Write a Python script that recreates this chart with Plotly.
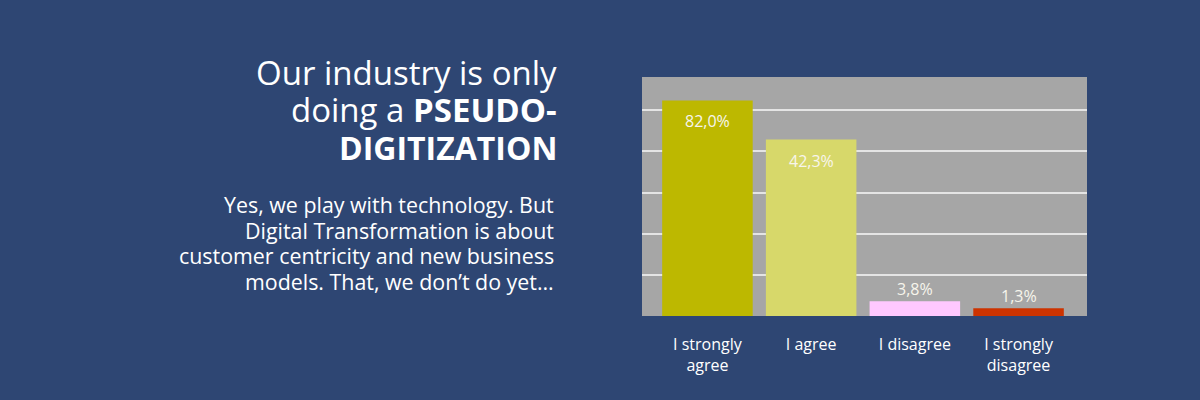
import plotly.graph_objects as go

# ────────────── DATOS ──────────────
categorias   = ["I strongly<br>agree", "I agree", "I disagree", "I strongly<br>disagree"]
etiquetas    = ["82,0%", "42,3%", "3,8%", "1,3%"]
# bar heights as drawn in the picture (gridline units)
alturas      = [5.24, 4.29, 0.36, 0.19]
colores      = ["#bdb800", "#d7d86a", "#ffc8ff", "#cc3300"]
dentro       = [True, True, False, False]   # label inside the bar or above it

titulo_lineas = ["Our industry is only", "doing a <b>PSEUDO-</b>", "<b>DIGITIZATION</b>"]
titulo_sizes  = [33, 33, 32]
texto_lineas  = ["Yes, we play with technology. But",
                 "Digital Transformation is about",
                 "customer centricity and new business",
                 "models. That, we don\u2019t do yet\u2026"]

FONDO = "#2e4673"
FUENTE = "Open Sans"

fig = go.Figure(go.Bar(
    x=categorias,
    y=alturas,
    marker=dict(color=colores, line_width=0),
    width=0.873,
    hoverinfo="skip",
))

# ───────────── textos de la izquierda (anotaciones en px → paper) ─────────────
L, R, T, B = 642, 113, 77, 84
W = 1200 - L - R
H = 400 - T - B

def px_x(px):
    return (px - L) / W

def px_y(py):
    return (400 - B - py) / H

anots = []
for i, linea in enumerate(titulo_lineas):
    anots.append(dict(text=linea, x=px_x(559), y=px_y(97.5 + i * 36.5), xref="paper", yref="paper",
                      xanchor="right", yanchor="bottom", showarrow=False,
                      font=dict(family=FUENTE, size=titulo_sizes[i], color="white")))
for i, linea in enumerate(texto_lineas):
    anots.append(dict(text=linea, x=px_x(556), y=px_y(221 + i * 25.5), xref="paper", yref="paper",
                      xanchor="right", yanchor="bottom", showarrow=False,
                      font=dict(family=FUENTE, size=21.4, color="white")))

# etiquetas de valor
for cat, alt, txt, ins in zip(categorias, alturas, etiquetas, dentro):
    anots.append(dict(text=txt, x=cat, y=alt, xref="x", yref="y", showarrow=False,
                      yanchor="middle", yshift=-21 if ins else 12,
                      font=dict(family=FUENTE, size=16, color="#f7f5ec")))

fig.update_layout(
    width=1200, height=400,
    paper_bgcolor=FONDO, plot_bgcolor="#a6a6a6",
    margin=dict(l=L, r=R, t=T, b=B),
    showlegend=False,
    annotations=anots,
    xaxis=dict(range=[-0.631, 3.66], showgrid=False, zeroline=False, showline=False,
               ticks="", ticklabelstandoff=17,
               tickfont=dict(family=FUENTE, size=16, color="white"), fixedrange=True),
    yaxis=dict(range=[0, 5.81], dtick=1, showgrid=True, gridcolor="#e4e4e4", gridwidth=2,
               zeroline=False, showticklabels=False, ticks="", fixedrange=True),
)

fig.write_html("out.html", config={"displayModeBar": False},
               post_script="document.body.style.margin='0px';")
